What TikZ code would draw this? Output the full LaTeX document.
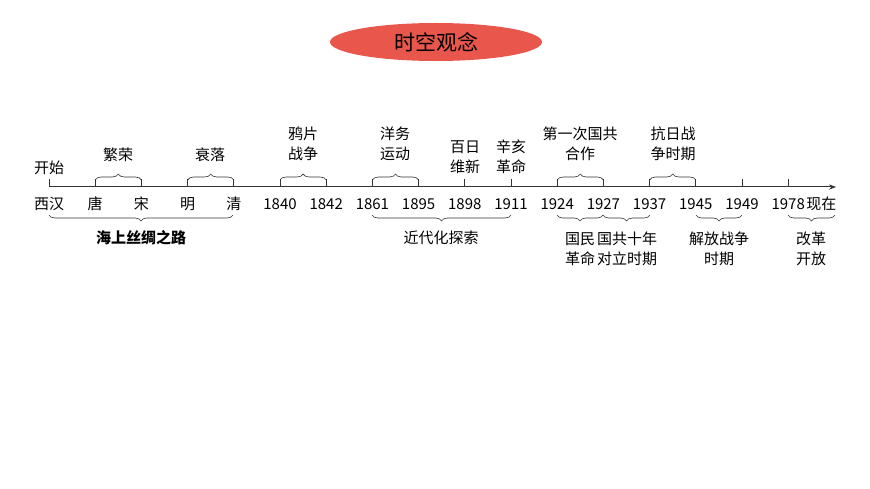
\documentclass[tikz,border=0pt]{standalone}
\usepackage{fontspec}
\setmainfont{Noto Sans CJK SC}
\usetikzlibrary{decorations.pathreplacing,arrows.meta,shapes.geometric}
\begin{document}
\begin{tikzpicture}[x=1pt,y=-1pt,
  lab/.style={font=\fontsize{15}{20}\selectfont,align=center,inner sep=0pt},
  brc/.style={decorate,decoration={brace,amplitude=6pt},line width=0.6pt,draw=black!80},
  tk/.style={line width=1pt,draw=black!80}]
\useasboundingbox (0,0) rectangle (870,489);
\node[ellipse,fill={rgb,255:red,232;green,86;blue,76},minimum width=212pt,minimum height=38pt,font=\fontsize{21}{24}\selectfont] (title) at (436,42) {时空观念};
\coordinate (a0) at (49,187); \coordinate (aend) at (836,187);
\draw[tk,-{Stealth[length=7pt]}] (a0) -- (aend);
\foreach \i/\t in {0/西汉,1/唐,2/宋,3/明,4/清,5/1840,6/1842,7/1861,8/1895,9/1898,10/1911,11/1924,12/1927,13/1937,14/1945,15/1949,16/1978}{
  \coordinate (t\i) at ({49+46.2*\i},187);
  \coordinate (u\i) at ({49+46.2*\i},179);
  \draw[tk] (t\i) -- (u\i);
  \node[lab] (y\i) at ({49+46.2*\i},204) {\t};
}
\node[lab,anchor=west] (xz) at ([xshift=1pt]y16.east) {现在};
% upper braces
\foreach \a/\b in {1/2,3/4,5/6,7/8,11/12,13/14}{
  \draw[brc] ([yshift=-1pt]u\a) -- ([yshift=-1pt]u\b);
}
\node[lab] (ks) at (49,168) {开始};
\node[lab] (fr) at (118,155) {繁荣};
\node[lab] (sl) at (210,155) {衰落};
\node[lab] (yp) at (303,144) {鸦片\\战争};
\node[lab] (yw) at (395,144) {洋务\\运动};
\node[lab] (br) at (465,157) {百日\\维新};
\node[lab] (xh) at (511,157) {辛亥\\革命};
\node[lab] (dy) at (580,144) {第一次国共\\合作};
\node[lab] (kr) at (673,144) {抗日战\\争时期};
% lower braces
\coordinate (b0) at (49,215); \coordinate (b4) at (233,215);
\draw[brc] (b4) -- (b0);
\coordinate (b7) at (372,215); \coordinate (b10) at (511,215);
\draw[brc] (b10) -- (b7);
\coordinate (b11) at (557,215); \coordinate (b12) at (603,215); \coordinate (b13) at (650,215);
\draw[brc] (b12) -- (b11); \draw[brc] (b13) -- (b12);
\coordinate (b14) at (696,215); \coordinate (b15) at (742,215);
\draw[brc] (b15) -- (b14);
\coordinate (b16) at (788,215); \coordinate (b17) at (835,215);
\draw[brc] (b17) -- (b16);
\node[lab,font=\fontsize{15}{20}\selectfont\bfseries] (hs) at (141,238) {海上丝绸之路};
\node[lab] (jd) at (441,238) {近代化探索};
\node[lab] (gm) at (580,249) {国民\\革命};
\node[lab] (gg) at (627,249) {国共十年\\对立时期};
\node[lab] (jf) at (719,249) {解放战争\\时期};
\node[lab] (gk) at (811,249) {改革\\开放};
\end{tikzpicture}
\end{document}
